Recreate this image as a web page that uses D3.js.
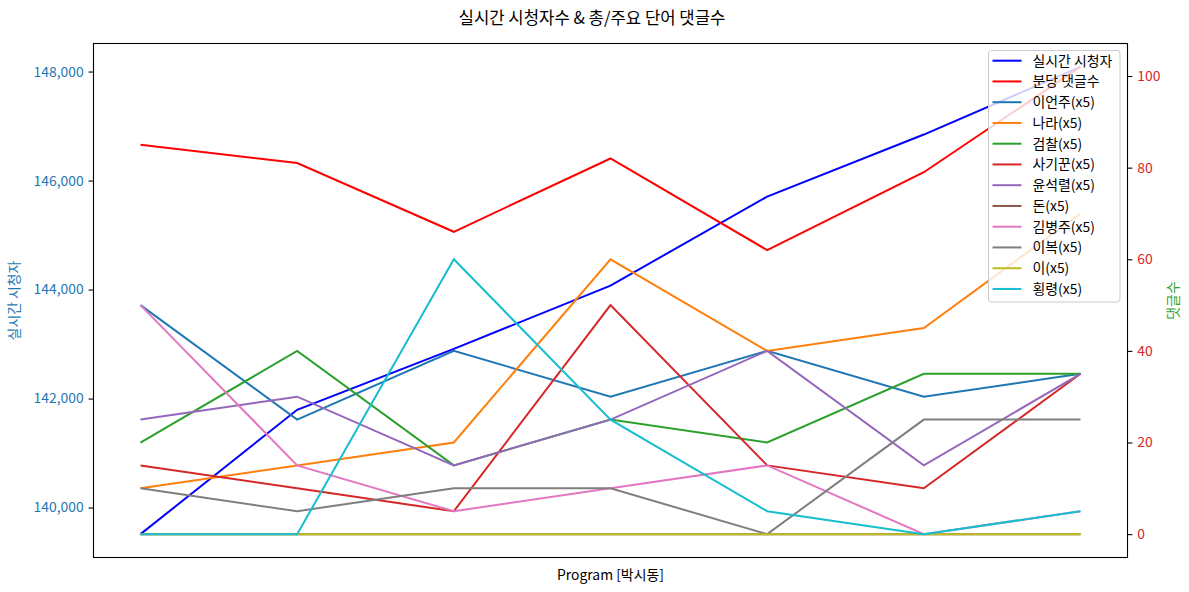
<!DOCTYPE html>
<html><head><meta charset="utf-8">
<script src="https://cdn.jsdelivr.net/npm/d3@7"></script>
<style>
body{margin:0;background:#fff;}
text{font-family:"Noto Sans CJK KR","Noto Sans",sans-serif;}
</style></head>
<body><svg id="chart" width="1189" height="592"></svg>
<script>
const categories = ["1","2","3","4","5","6","7"];
const viewers = [139512, 141793, 142912, 144073, 145706, 146844, 148086];
const perMinute = [85, 81, 66, 82, 62, 79, 102];
const wordNames = ["이언주(x5)","나라(x5)","검찰(x5)","사기꾼(x5)","윤석렬(x5)","돈(x5)","김병주(x5)","이복(x5)","이(x5)","횡령(x5)"];
const w_ieonju = [50, 25, 40, 30, 40, 30, 35];
const w_nara = [10, 15, 20, 60, 40, 45, 70];
const w_geomchal = [20, 40, 15, 25, 20, 35, 35];
const w_sagikkun = [15, 10, 5, 50, 15, 10, 35];
const w_yoon = [25, 30, 15, 25, 40, 15, 35];
const w_don = [0, 0, 0, 0, 0, 0, 0];
const w_kimbj = [50, 15, 5, 10, 15, 0, 5];
const w_ibok = [10, 5, 10, 10, 0, 25, 25];
const w_i = [0, 0, 0, 0, 0, 0, 0];
const w_hoengryeong = [0, 0, 60, 25, 5, 0, 5];
const wordSeries = [w_ieonju, w_nara, w_geomchal, w_sagikkun, w_yoon, w_don, w_kimbj, w_ibok, w_i, w_hoengryeong];
const leftTicks = [140000, 142000, 144000, 146000, 148000];
const rightTicks = [0, 20, 40, 60, 80, 100];
const tab10 = ["#1f77b4","#ff7f0e","#2ca02c","#d62728","#9467bd","#8c564b","#e377c2","#7f7f7f","#bcbd22","#17becf"];

const svg = d3.select("#chart");
const L = 93.5, R = 1127.5, T = 43.5, B = 557.5;
const FS = "13.9px";

const x = d3.scalePoint().domain(categories).range([L, R]).padding(0.3);
function padded(min, max){ const m = (max-min)*0.05; return [min-m, max+m]; }
const yL = d3.scaleLinear().domain(padded(d3.min(viewers), d3.max(viewers))).range([B, T]);
const allRight = perMinute.concat(...wordSeries);
const yR = d3.scaleLinear().domain(padded(d3.min(allRight), d3.max(allRight))).range([B, T]);

const fmt = d3.format(",");
const ga = svg.append("g").attr("transform", `translate(${L},0)`)
  .call(d3.axisLeft(yL).tickValues(leftTicks).tickFormat(fmt).tickSize(4.9).tickPadding(4.9));
ga.select(".domain").remove();
ga.selectAll("line").attr("stroke","#000").attr("stroke-width",1.1);
ga.selectAll("text").attr("fill","#1f77b4").attr("font-size",FS);
const gr = svg.append("g").attr("transform", `translate(${R},0)`)
  .call(d3.axisRight(yR).tickValues(rightTicks).tickSize(4.9).tickPadding(4.9));
gr.select(".domain").remove();
gr.selectAll("line").attr("stroke","#000").attr("stroke-width",1.1);
gr.selectAll("text").attr("fill","#d62728").attr("font-size",FS);

const line = (ys) => d3.line().x((d,i)=>x(categories[i])).y(d=>ys(d));
const plot = svg.append("g");
plot.append("path").datum(viewers).attr("d", line(yL)).attr("fill","none").attr("stroke","blue").attr("stroke-width",2);
plot.append("path").datum(perMinute).attr("d", line(yR)).attr("fill","none").attr("stroke","red").attr("stroke-width",2);
wordSeries.forEach((s,i)=>{
  plot.append("path").datum(s).attr("d", line(yR)).attr("fill","none").attr("stroke",tab10[i]).attr("stroke-width",2);
});

svg.append("rect").attr("x",L).attr("y",T).attr("width",R-L).attr("height",B-T)
  .attr("fill","none").attr("stroke","#000").attr("stroke-width",1.1);

svg.append("text").attr("x",592).attr("y",24).attr("text-anchor","middle").attr("font-size","16.7px").attr("fill","#000")
  .text("실시간 시청자수 & 총/주요 단어 댓글수");
svg.append("text").attr("x",(L+R)/2).attr("y",580).attr("text-anchor","middle").attr("font-size",FS).attr("fill","#000")
  .text("Program [박시동]");
svg.append("text").attr("transform",`translate(19,${(T+B)/2}) rotate(-90)`).attr("text-anchor","middle").attr("font-size",FS).attr("fill","#1f77b4")
  .text("실시간 시청자");
svg.append("text").attr("transform",`translate(1178,${(T+B)/2}) rotate(-90)`).attr("text-anchor","middle").attr("font-size",FS).attr("fill","#2ca02c")
  .text("댓글수");

const names = ["실시간 시청자","분당 댓글수"].concat(wordNames);
const colors = ["blue","red"].concat(tab10);
const lg = svg.append("g");
lg.append("rect").attr("x",988.5).attr("y",50.5).attr("width",131.5).attr("height",251.5).attr("rx",3)
  .attr("fill","white").attr("fill-opacity",0.8).attr("stroke","#ccc").attr("stroke-width",1);
names.forEach((n,i)=>{
  const yy = 60.7 + i*20.75;
  lg.append("line").attr("x1",992.5).attr("x2",1021.5).attr("y1",yy).attr("y2",yy).attr("stroke",colors[i]).attr("stroke-width",2);
  lg.append("text").attr("x",1032.5).attr("y",yy+4.8).attr("font-size",FS).attr("fill","#000").text(n);
});
</script></body></html>
